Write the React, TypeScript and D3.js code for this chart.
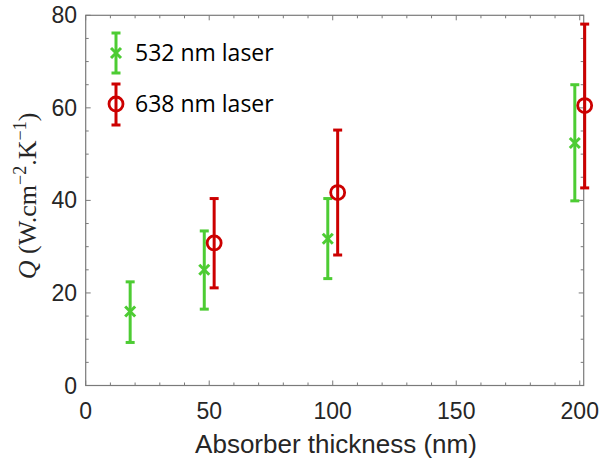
import React from "react";
import * as d3 from "d3";

const greenX = [18, 48, 98, 198];
const greenY = [16, 25, 31.7, 52.4];
const greenLo = [9.3, 16.5, 23.1, 39.9];
const greenHi = [22.4, 33.4, 40.4, 65.0];

const redX = [52, 102, 202];
const redY = [30.8, 41.7, 60.5];
const redLo = [21.1, 28.2, 42.7];
const redHi = [40.4, 55.2, 78.1];

const xTicks = [0, 50, 100, 150, 200];
const yTicks = [0, 20, 40, 60, 80];
const legendLabels = ["532 nm laser", "638 nm laser"];

const GREEN = "#4dcc33";
const RED = "#cc0000";
const AXIS = "#7a7a7a";
const TXT = "#262626";

export default function App() {
  const W = 601, H = 463;
  const x = d3.scaleLinear().domain([0, 201.6]).range([85.7, 583.7]);
  const y = d3.scaleLinear().domain([0, 80]).range([385.5, 15.3]);
  const [x0, x1] = x.range();
  const [y0, y1] = y.range();
  const xMinor = d3.range(0, 201, 10);
  const yMinor = d3.range(0, 81, 5);
  const cap = 4.5;

  const errBar = (cx: number, lo: number, hi: number, color: string, key: string) => (
    <g key={key} stroke={color} strokeWidth={3} fill="none">
      <line x1={cx} x2={cx} y1={lo} y2={hi} />
      <line x1={cx - cap} x2={cx + cap} y1={lo} y2={lo} />
      <line x1={cx - cap} x2={cx + cap} y1={hi} y2={hi} />
    </g>
  );
  const xMark = (cx: number, cy: number, color: string, key: string) => (
    <g key={key} stroke={color} strokeWidth={3}>
      <line x1={cx - 5} x2={cx + 5} y1={cy - 5} y2={cy + 5} />
      <line x1={cx - 5} x2={cx + 5} y1={cy + 5} y2={cy - 5} />
    </g>
  );
  const circ = (cx: number, cy: number, color: string, key: string) => (
    <circle key={key} cx={cx} cy={cy} r={7} fill="none" stroke={color} strokeWidth={2.8} />
  );

  return (
    <svg width={W} height={H} style={{ position: "absolute", left: 0, top: 0, background: "#fff" }}>
      {/* minor ticks */}
      <g stroke={AXIS} strokeWidth={1}>
        {xMinor.map((v) => (
          <g key={"xm" + v}>
            <line x1={x(v)} x2={x(v)} y1={y0} y2={y0 - (v % 50 === 0 ? 5 : 3)} />
            <line x1={x(v)} x2={x(v)} y1={y1} y2={y1 + (v % 50 === 0 ? 5 : 3)} />
          </g>
        ))}
        {yMinor.map((v) => (
          <g key={"ym" + v}>
            <line x1={x0} x2={x0 + (v % 20 === 0 ? 5 : 3)} y1={y(v)} y2={y(v)} />
            <line x1={x1} x2={x1 - (v % 20 === 0 ? 5 : 3)} y1={y(v)} y2={y(v)} />
          </g>
        ))}
      </g>
      <rect x={x0} y={y1} width={x1 - x0} height={y0 - y1} fill="none" stroke={AXIS} strokeWidth={1.2} />

      {/* tick labels */}
      <g fontFamily="Liberation Sans, Arial, sans-serif" fontSize={23} fill={TXT}>
        {xTicks.map((v) => (
          <text key={"xt" + v} x={x(v)} y={419} textAnchor="middle">{v}</text>
        ))}
        {yTicks.map((v) => (
          <text key={"yt" + v} x={77} y={y(v) + 8} textAnchor="end">{v}</text>
        ))}
      </g>
      <text x={336} y={453} textAnchor="middle" fontFamily="Liberation Sans, Arial, sans-serif" fontSize={26} fill={TXT}>
        Absorber thickness (nm)
      </text>
      <text transform="translate(36,196) rotate(-90)" textAnchor="middle" fontFamily="Liberation Serif, serif" fontSize={26} fill={TXT}>
        <tspan fontStyle="italic">Q</tspan>
        <tspan> (W.cm</tspan>
        <tspan dy={-10} fontSize={18}>−2</tspan>
        <tspan dy={10}>.K</tspan>
        <tspan dy={-10} fontSize={18}>−1</tspan>
        <tspan dy={10}>)</tspan>
      </text>

      {/* data */}
      {greenX.map((v, i) => errBar(x(v), y(greenLo[i]), y(greenHi[i]), GREEN, "ge" + i))}
      {greenX.map((v, i) => xMark(x(v), y(greenY[i]), GREEN, "gm" + i))}
      {redX.map((v, i) => errBar(x(v), y(redLo[i]), y(redHi[i]), RED, "re" + i))}
      {redX.map((v, i) => circ(x(v), y(redY[i]), RED, "rm" + i))}

      {/* legend */}
      {errBar(116, 73, 33, GREEN, "lg")}
      {xMark(116, 53, GREEN, "lgm")}
      {errBar(116, 125, 84, RED, "lr")}
      {circ(116, 104, RED, "lrm")}
      <g fontFamily="Open Sans, sans-serif" fontSize={23} fill="#000">
        <text x={135} y={61}>{legendLabels[0]}</text>
        <text x={135} y={112}>{legendLabels[1]}</text>
      </g>
    </svg>
  );
}
